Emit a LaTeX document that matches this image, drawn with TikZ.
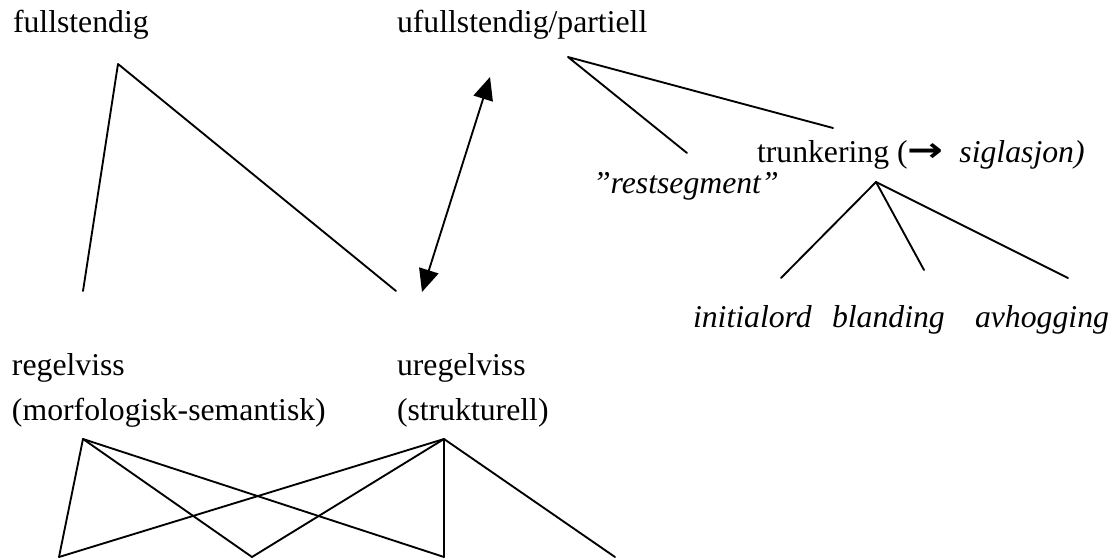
\documentclass[tikz,border=0pt]{standalone}
\usepackage{fontspec}
\setmainfont{Liberation Serif}
\newfontfamily\symfont{DejaVu Sans}
\usetikzlibrary{arrows.meta}
\begin{document}
\begin{tikzpicture}[x=0.75pt,y=-0.75pt,
  every node/.style={inner sep=0pt,outer sep=0pt,anchor=base west,
    font=\fontsize{23.8}{28}\selectfont},
  edge/.style={line width=1.4pt,line cap=round,line join=round},
  twoway/.style={edge,{Triangle[length=17pt,width=15pt]}-{Triangle[length=17pt,width=15pt]}}]
\useasboundingbox (0,0) rectangle (1117,560);

% headings
\node (full)   at (13,33)  {fullstendig};
\node (partial) at (397,33) {ufullstendig/partiell};
\node (trunk)  at (757,162) {trunkering (\raisebox{0.5pt}{\scalebox{1.35}[1.05]{\symfont\bfseries →}}\ \ \textit{siglasjon)}};
\node (rest)   at (593,193) {\textit{”restsegment”}};
\node (init)   at (693,327) {\textit{initialord}};
\node (bland)  at (832,327) {\textit{blanding}};
\node (avh)    at (975,327) {\textit{avhogging}};
\node (reg)    at (12,375)  {regelviss};
\node (regsub) at (12,420)  {(morfologisk-semantisk)};
\node (ureg)   at (397,375) {uregelviss};
\node (uregsub) at (397,420) {(strukturell)};

% branch points and line ends
\coordinate (fullTop) at (118,64);
\coordinate (fullL)   at (83,291);
\coordinate (fullR)   at (396,291);
\coordinate (arrA)    at (422,292);
\coordinate (arrB)    at (490,77);
\coordinate (partTop) at (568,57);
\coordinate (partL)   at (687,153);
\coordinate (partR)   at (833,128);
\coordinate (trTop)   at (876,182);
\coordinate (trL)     at (781,278);
\coordinate (trM)     at (924,270);
\coordinate (trR)     at (1068,278);
\coordinate (regTop)  at (83,439);
\coordinate (uregTop) at (444,439);
\coordinate (b1)      at (59,557);
\coordinate (b2)      at (252,557);
\coordinate (b3)      at (444,557);
\coordinate (b4)      at (615,557);

% tree under "fullstendig"
\draw[edge] (fullL) -- (fullTop) -- (fullR);
% two-way link
\draw[twoway] (arrA) -- (arrB);
% tree under "ufullstendig/partiell"
\draw[edge] (partL) -- (partTop) -- (partR);
% tree under "trunkering"
\draw[edge] (trTop) -- (trL);
\draw[edge] (trTop) -- (trM);
\draw[edge] (trTop) -- (trR);
% crossing lines below
\draw[edge] (regTop) -- (b1);
\draw[edge] (regTop) -- (b2);
\draw[edge] (regTop) -- (b3);
\draw[edge] (uregTop) -- (b1);
\draw[edge] (uregTop) -- (b2);
\draw[edge] (uregTop) -- (b3);
\draw[edge] (uregTop) -- (b4);
\end{tikzpicture}
\end{document}
